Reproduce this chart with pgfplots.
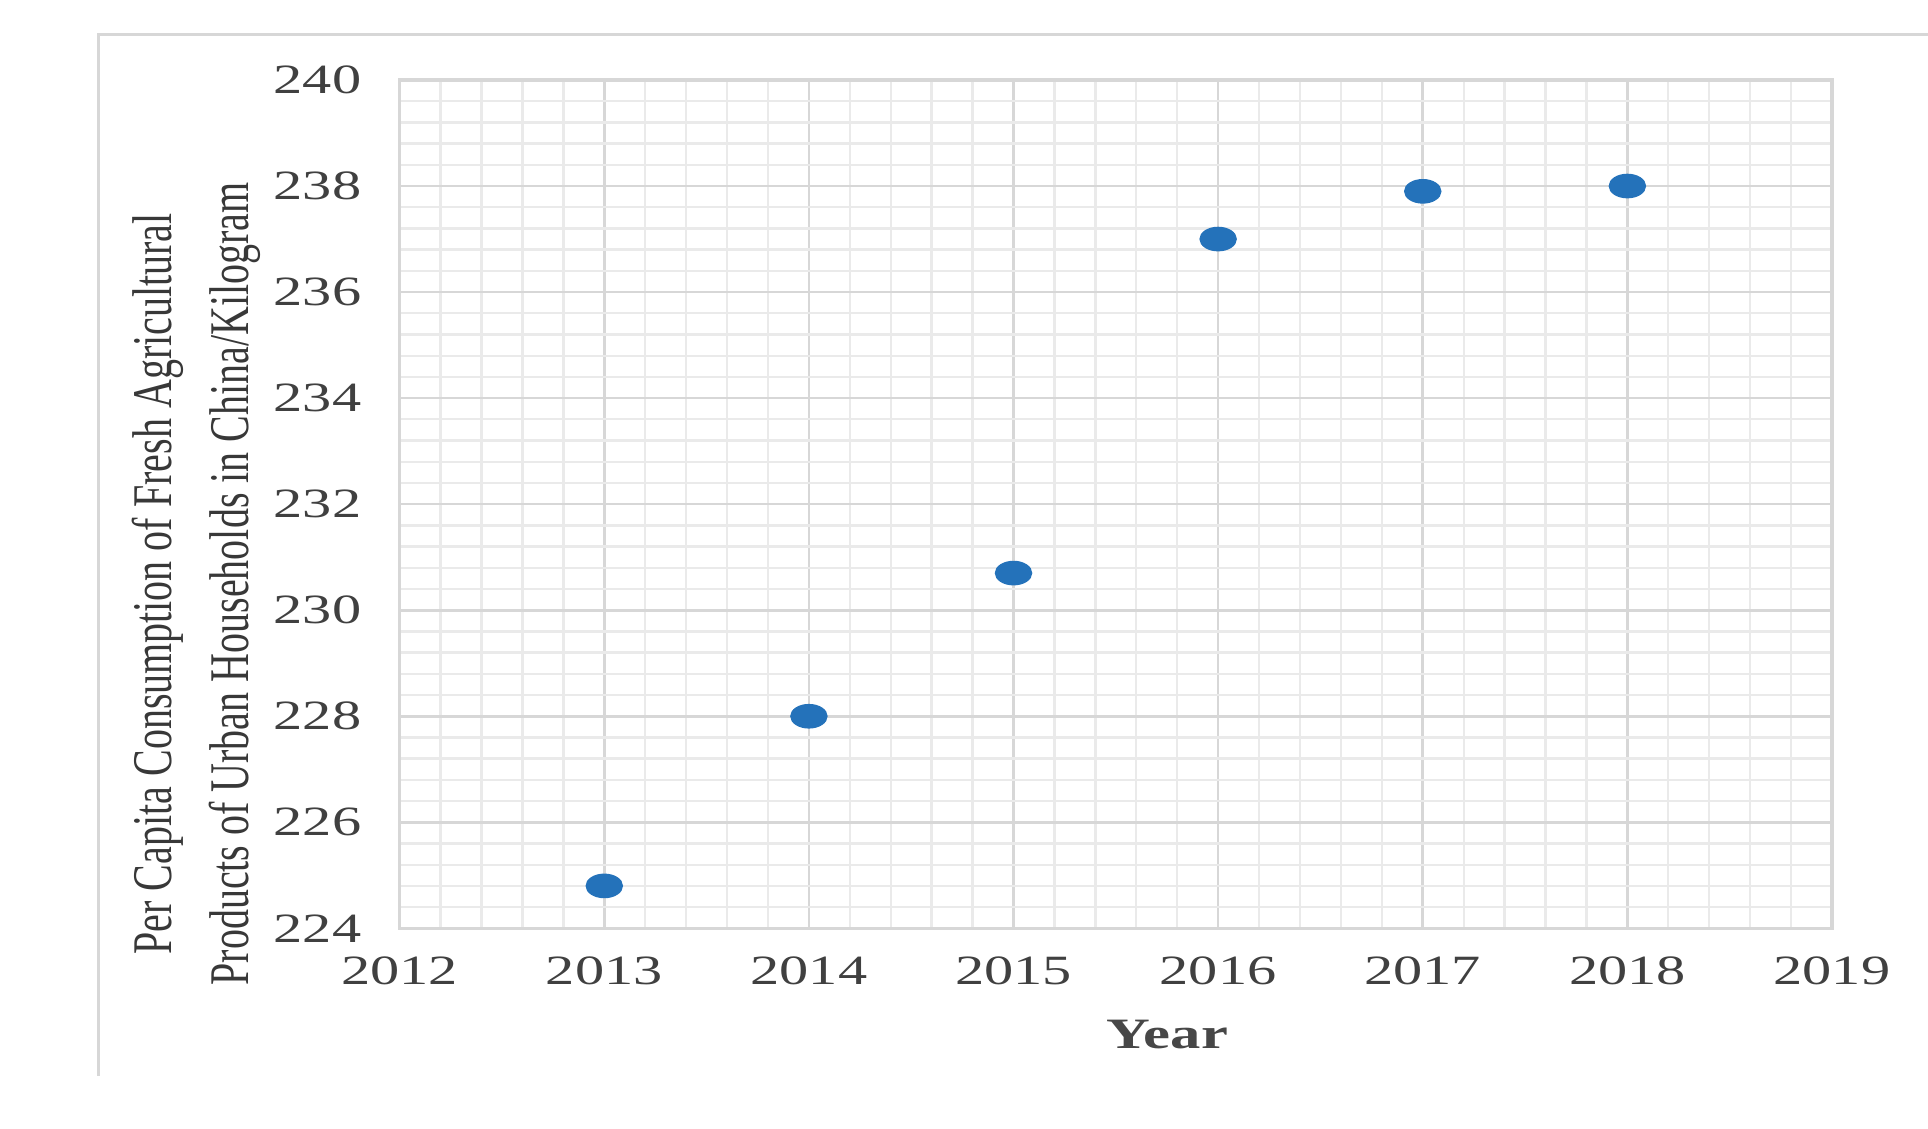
\documentclass[border=0pt]{standalone}
\usepackage{fontspec}
\setmainfont{Liberation Serif}
\usepackage{graphicx}
\usepackage{pgfplots}
\pgfplotsset{compat=1.18}
\definecolor{mk}{RGB}{36,114,186}
\definecolor{majg}{RGB}{215,215,215}
\definecolor{ming}{RGB}{234,234,234}
\begin{document}
\begin{tikzpicture}
\path[use as bounding box] (0,0) rectangle (578.4bp,338.7bp);
\draw[majg, line width=0.8bp] (29.5bp,15.9bp) -- (29.5bp,328.4bp) -- (578.4bp,328.4bp);
\begin{axis}[
  at={(119.9bp,60.2bp)}, anchor=south west,
  width=429.7bp, height=254.5bp, scale only axis,
  xmin=2012, xmax=2019, ymin=224, ymax=240,
  xtick={2012,2013,...,2019}, ytick={224,226,...,240},
  minor xtick={2012.2,2012.4,...,2019},
  minor ytick={224.4,224.8,...,240},
  grid=both,
  major grid style={majg, line width=0.8bp},
  minor grid style={ming, line width=0.7bp},
  axis line style={majg, line width=1bp},
  major tick length=0pt, minor tick length=0pt,
  /pgf/number format/assume math mode=true,
  /pgf/number format/1000 sep={},
  xticklabel={\scalebox{1.4}[1]{\pgfmathprintnumber{\tick}}},
  yticklabel={\scalebox{1.4}[1]{\pgfmathprintnumber{\tick}}},
  tick label style={font=\fontsize{12.5bp}{14bp}\selectfont, text=black!75},
  yticklabel style={xshift=-8bp},
  xticklabel style={yshift=-5bp},
  xlabel={\scalebox{1.4}[1]{\bfseries Year}},
  xlabel style={at={(rel axis cs:0.536,-0.1257)}, anchor=center, font=\fontsize{13bp}{15bp}\selectfont, text=black!72},
  ylabel={\scalebox{1}[1.4]{\begin{tabular}{@{}c@{}}Per Capita Consumption of Fresh Agricultural\\Products of Urban Households in China/Kilogram\end{tabular}}},
  ylabel style={at={(rel axis cs:-0.1429,0.406)}, anchor=center, font=\fontsize{12bp}{16.5bp}\selectfont, text=black!78},
]
\addplot[only marks, mark=*, mark size=3.5bp, mark options={xscale=1.55, fill=mk, draw=mk}]
  coordinates {(2013,224.8) (2014,228.0) (2015,230.7) (2016,237.0) (2017,237.9) (2018,238.0)};
\end{axis}
\end{tikzpicture}
\end{document}
